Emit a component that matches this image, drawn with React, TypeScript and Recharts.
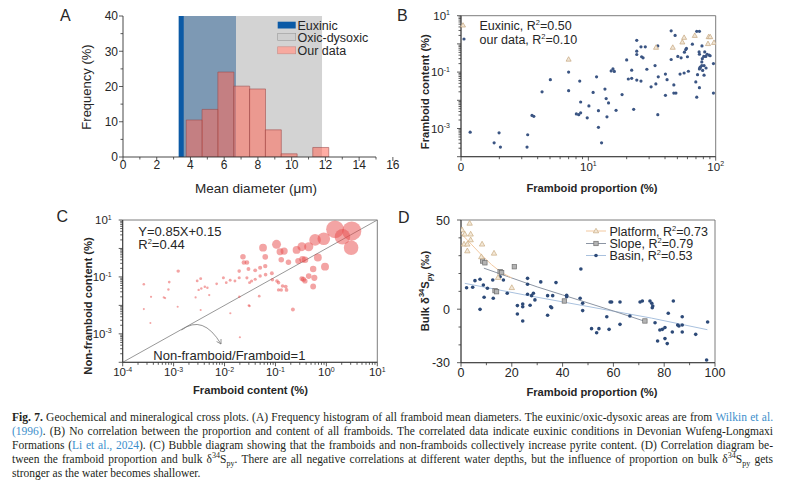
import React from "react";
import {
  ComposedChart,
  ScatterChart,
  Scatter,
  Bar,
  XAxis,
  YAxis,
  ZAxis,
  ReferenceArea,
  ReferenceLine,
} from "recharts";

const SANS = '"Liberation Sans", Arial, sans-serif';
const SERIF = '"Liberation Serif", "Times New Roman", serif';
const INK = "#262626";
const AXIS = "#333333";
const FRAME = "#6e6e6e";

// ---- A: framboid mean diameter histogram
const binLabels = ["0-1", "1-2", "2-3", "3-4", "4-5", "5-6", "6-7", "7-8", "8-9", "9-10", "10-11", "11-12", "12-13", "13-14", "14-15", "15-16"];
const binFreq = [0, 0, 0, 0, 10.5, 13.5, 24.1, 20.1, 19.3, 7.7, 0.9, 0, 2.7, 0, 0, 0];
const euxinicRange = [3.3, 6.7];
const oxicRange = [3.6, 11.8];
const aXTicks = [0, 1, 2, 3, 4, 5, 6, 7, 8, 9, 10, 11, 12, 13, 14, 15, 16];
const aXLabels = [0, 2, 4, 6, 8, 10, 12, 14, 16];
const aYTicks = [0, 5, 10, 15, 20, 25, 30, 35, 40];
const aYLabels = [0, 10, 20, 30, 40];

// ---- B: framboid proportion (%) vs framboid content (%)
const bOurData: [number, number][] = [
  [1.18, 7.4e-4], [1.82, 3.1e-4], [1.99, 7e-4], [2.04, 2.2e-4], [3.34, 6e-4], [3.3, 2.2e-4],
  [3.61, 2.9e-3], [3.73, 2.7e-3], [4.33, 0.02], [5.03, 0.054], [7.0, 0.1], [7.0, 0.022],
  [8.56, 0.048], [8.7, 8.7e-3], [8.05, 3.3e-3], [8.4, 3.1e-3], [8.7, 3.6e-3], [9.8, 2.4e-3],
  [10.1, 6.3e-3], [10.9, 0.019], [11.6, 0.068], [12.0, 4.3e-3], [12.0, 1.1e-3], [12.7, 3.1e-4],
  [13.5, 0.025], [13.8, 0.0115], [14.4, 8.1e-3], [14.0, 2.6e-3], [15.1, 0.11], [15.6, 0.13],
  [16.0, 0.106], [16.5, 4.4e-3], [18.4, 0.016], [20, 0.27], [20.6, 0.057], [21.9, 0.06],
  [21.9, 0.117], [22.7, 4.8e-3], [24, 1.34], [24, 0.55], [24, 0.42], [24, 0.052], [25.9, 0.048],
  [25.9, 0.79], [28, 0.79], [26.2, 0.35], [26.9, 0.32], [28.8, 0.126], [31.1, 0.03], [33.4, 0.17],
  [33.9, 0.038], [35.1, 0.85], [35.4, 0.068], [35.1, 3.1e-3], [40.3, 0.085], [41.5, 0.054],
  [40.3, 0.015], [44.7, 2.9], [44.7, 0.28], [46.9, 0.035], [46.9, 0.018], [48.7, 0.018], [48, 2.0],
  [50.4, 0.36], [52.5, 0.085], [56.5, 0.093], [53.5, 0.32], [56.8, 0.51], [58.2, 0.63], [58.9, 0.69],
  [60, 0.35], [61, 0.107], [65.6, 0.98], [71, 2.8], [74.5, 2.8], [69.8, 0.045], [71, 0.0129],
  [72, 0.081], [74.5, 0.13], [75.5, 0.15], [74.5, 0.028], [74.1, 0.52], [74.5, 0.43], [77.8, 0.23],
  [78.5, 0.3], [80.6, 0.36], [83.6, 0.36], [85.6, 0.43], [82, 0.52], [88.8, 0.4], [90.4, 0.38],
  [75.5, 0.14], [77.8, 0.17], [81, 0.17], [84, 0.14], [78, 0.85], [79, 0.115], [81, 0.078],
  [96, 0.2], [96, 0.018],
];
const bEuxinic: [number, number][] = [
  [7, 0.28], [34, 0.74], [46, 0.74], [54.7, 1.14], [56.5, 1.66], [68.5, 1.95], [88, 1.76],
  [90.5, 1.76], [87, 1.0], [97, 1.1],
];

// ---- C: framboid content (%) vs non-framboid content (%)
const cPoints: [number, number][] = [
  [1.48, 4.7], [3.15, 4.1], [3.06, 1.06], [2.07, 2.6], [0.89, 2.2], [0.6, 2.0], [0.45, 1.15],
  [0.33, 1.15], [0.68, 0.48], [0.94, 0.23], [0.55, 0.19], [0.58, 0.093], [0.45, 0.107], [0.38, 0.072],
  [0.355, 0.083], [0.33, 0.087], [0.55, 0.046], [0.105, 1.4], [0.057, 1.06], [0.063, 0.51],
  [0.123, 0.76], [0.148, 0.81], [0.13, 0.4], [0.18, 0.33], [0.28, 0.36], [0.34, 0.42], [0.38, 0.4],
  [0.26, 0.89], [0.05, 0.21], [0.04, 0.17], [0.063, 0.24], [0.0275, 0.32], [0.0295, 0.19],
  [0.05, 0.107], [0.064, 0.12], [0.085, 0.135], [0.087, 0.079], [0.107, 0.072], [0.115, 0.063],
  [0.138, 0.048], [0.159, 0.046], [0.115, 0.035], [0.13, 0.035], [0.165, 0.035], [0.04, 0.083],
  [0.034, 0.072], [0.031, 0.063], [0.048, 0.021], [0.03, 0.01], [0.22, 0.0072], [0.023, 0.51],
  [0.024, 0.32], [0.0194, 0.16], [0.0275, 0.093], [2.6e-4, 0.055], [3.6e-4, 0.02], [6.4e-4, 0.019],
  [8.2e-4, 0.066], [7.9e-4, 0.036], [1.23e-3, 0.16], [1.2e-3, 8.9e-3], [2.9e-3, 0.072],
  [3.4e-3, 0.087], [3.1e-3, 0.035], [3.5e-3, 0.039], [4.1e-3, 0.045], [4.6e-3, 0.042], [5e-3, 0.023],
  [7e-3, 0.057], [9.5e-3, 0.093], [0.0108, 0.063], [0.0129, 0.076], [0.016, 0.072], [0.0194, 0.093],
  [2.6e-4, 7.4e-3], [3.5e-4, 2.4e-3], [6.8e-4, 0.018], [2.7e-3, 0.019], [3.4e-3, 6.9e-3],
  [0.013, 5.3e-3], [0.02, 7.6e-4], [0.031, 9.5e-3], [0.0195, 0.02],
];
const cRatioLine = [
  { x: 1e-4, y: 1e-4 },
  { x: 10, y: 10 },
];

// ---- D: framboid proportion (%) vs bulk d34S (permil)
const dPlatform: [number, number][] = [
  [3.4, 48.1], [0.4, 44.4], [1.5, 42], [3.8, 42], [3.8, 38.8], [1.2, 36.4], [2.5, 36.4], [2.5, 32.6],
  [8.3, 36.4], [8.0, 29.3], [13, 31.3], [14.6, 17.7], [20, 12],
];
const dSlope: [number, number][] = [
  [8.5, 27], [9.4, 26], [15.4, 21], [16, 20.5], [21, 23.8], [13.4, 10.4], [14, 9.8], [40.7, 4.6], [72.4, -6.6],
];
const dBasin: [number, number][] = [
  [2.2, 12], [4.6, 12.3], [5.5, 16], [7.5, 16.8], [7.5, -0.1], [9.1, 6.7], [8.8, 13.6], [10.4, 11.7],
  [12.5, 16.4], [12.7, 6.1], [15.4, 18.2], [16.7, 16.4], [18.2, 8.9], [22.2, 2], [22.2, -2.7],
  [24.3, 2.9], [24.3, 1.4], [24.3, -6.6], [26.2, 17.3], [26.2, 14], [26.2, 8.4], [27.2, 2.2],
  [27.8, 7.6], [28.5, 8.9], [29.1, 5.2], [31.4, 15.3], [34.1, 7.6], [36.1, 7.6], [34.1, -3.4],
  [35.3, 1.4], [35.7, 0.8], [37.4, 14.9], [41.6, 7.8], [41.6, 7.0], [47.2, 22.5], [46.9, 6.1],
  [47.9, 3.3], [47.9, -0.8], [51.4, -10.9], [54.3, -10.9], [53.4, -13.2], [57.4, -4.2], [58.3, -11.3],
  [58.7, 4], [59.3, 4], [62.6, 4], [62.6, -8.5], [66.5, -3.8], [70.5, 4], [71.4, 4.6], [74.4, 4.6],
  [75.1, 3.3], [75.5, 1.8], [75.3, 0.8], [76.4, -7.6], [77.4, -17.8], [78.3, -11.7], [79.3, -11.3],
  [80.3, -16.5], [81.2, -19.3], [81.6, -2.3], [80.3, -10.3], [83.2, -12.8], [83.6, 4.6], [85.3, -8.9],
  [85.8, -9.4], [87.1, -4.2], [87.1, -8.9], [87.1, -12.8], [92.4, -14.1], [96.7, -28.5], [97.1, -7.2],
];
const dPlatformFit: [number, number][] = [[0, 42.5], [4, 36.5], [8, 30.5], [12, 25], [16, 20.5], [20, 17.5]];
const dSlopeFit: [number, number][] = [[9, 23], [20, 17.5], [30, 12.5], [40, 8], [50, 3.5], [60, -1], [72.4, -6.8]];
const dBasinFit: [number, number][] = [[1.5, 14.5], [25, 8], [50, 1.5], [75, -5], [97, -11.5]];
const dXTicks = [0, 10, 20, 30, 40, 50, 60, 70, 80, 90, 100];
const dXLabels = [0, 20, 40, 60, 80, 100];
const dYTicks = [-30, -20, -10, 0, 10, 20, 30, 40, 50];
const dYLabels = [-30, 0, 50];

const toXY = (pts: [number, number][]) => pts.map(([x, y]) => ({ x, y }));

const logTicks = (lo: number, hi: number) => {
  const t: number[] = [];
  for (let e = lo; e < hi; e++) for (let m = 1; m < 10; m++) t.push(m * Math.pow(10, e));
  t.push(Math.pow(10, hi));
  return t;
};
const decade = (v: number) => {
  const l = Math.log10(v);
  return Math.abs(l - Math.round(l)) < 1e-6 ? Math.round(l) : null;
};
const pow10 = (e: number) => (
  <>
    <tspan>10</tspan>
    <tspan dy={-4.5} fontSize={7}>{e}</tspan>
  </>
);

type TickArgs = { x: number; y: number; payload: { value: number } };
type Lab = (v: number) => React.ReactNode;

function bottomTick(isMajor: (v: number) => boolean, label: Lab, dy: number, fs: number) {
  return (p: TickArgs) => {
    const v = p.payload.value;
    const m = isMajor(v);
    const l = label(v);
    return (
      <g>
        <line x1={p.x} x2={p.x} y1={p.y} y2={p.y + (m ? 4 : 2.5)} stroke={AXIS} strokeWidth={0.8} />
        {l !== null && (
          <text x={p.x} y={p.y + dy} textAnchor="middle" fontSize={fs} fontFamily={SANS} fill={INK}>
            {l}
          </text>
        )}
      </g>
    );
  };
}

function leftTick(isMajor: (v: number) => boolean, label: Lab, gap: number, fs: number) {
  return (p: TickArgs) => {
    const v = p.payload.value;
    const m = isMajor(v);
    const l = label(v);
    return (
      <g>
        <line x1={p.x} x2={p.x - (m ? 4 : 2.5)} y1={p.y} y2={p.y} stroke={AXIS} strokeWidth={0.8} />
        {l !== null && (
          <text x={p.x - gap} y={p.y + fs * 0.36} textAnchor="end" fontSize={fs} fontFamily={SANS} fill={INK}>
            {l}
          </text>
        )}
      </g>
    );
  };
}

const axisCommon = {
  tickSize: 0,
  tickMargin: 0,
  tickLine: false,
  interval: 0 as const,
  allowDataOverflow: true,
  axisLine: { stroke: AXIS, strokeWidth: 0.9 },
};

const dotShape = (fill: string, r: number) => (p: any) => <circle cx={p.cx} cy={p.cy} r={r} fill={fill} />;
const triShape = (fill: string, stroke: string, s: number) => (p: any) => (
  <polygon
    points={`${p.cx},${p.cy - s} ${p.cx - s * 0.9},${p.cy + s * 0.6} ${p.cx + s * 0.9},${p.cy + s * 0.6}`}
    fill={fill}
    stroke={stroke}
    strokeWidth={0.7}
  />
);
const squareShape = (fill: string, stroke: string, s: number) => (p: any) => (
  <rect x={p.cx - s} y={p.cy - s} width={s * 2} height={s * 2} fill={fill} stroke={stroke} strokeWidth={0.7} />
);
const bubbleShape = (p: any) => (
  <circle cx={p.cx} cy={p.cy} r={Math.max(p.width / 2, 0.6)} fill="#e84a4a" fillOpacity={0.5} />
);
const noShape = () => <g />;

function PanelA() {
  const data = binLabels.map((bin, i) => ({ bin, freq: binFreq[i] }));
  return (
    <ComposedChart width={400} height={200} data={data} margin={{ top: 16, right: 24, bottom: 13, left: 0 }} barCategoryGap={0} barGap={0}>
      <XAxis
        xAxisId="mm"
        type="number"
        domain={[0, 16]}
        ticks={aXTicks}
        height={30}
        {...axisCommon}
        tick={bottomTick((v) => aXLabels.includes(v), (v) => (aXLabels.includes(v) ? v : null), 11.5, 12)}
      />
      <XAxis xAxisId="bin" dataKey="bin" type="category" hide height={0} />
      <YAxis
        type="number"
        domain={[0, 40]}
        ticks={aYTicks}
        width={123}
        {...axisCommon}
        tick={leftTick((v) => aYLabels.includes(v), (v) => (aYLabels.includes(v) ? v : null), 5, 12)}
      />
      <ReferenceArea xAxisId="mm" x1={euxinicRange[0]} x2={euxinicRange[1]} y1={0} y2={40} fill="#0b5aa6" fillOpacity={1} stroke="none" />
      <ReferenceArea xAxisId="mm" x1={oxicRange[0]} x2={oxicRange[1]} y1={0} y2={40} fill="#bcbcbc" fillOpacity={0.65} stroke="none" />
      <Bar xAxisId="bin" dataKey="freq" fill="#ff6a5a" fillOpacity={0.55} stroke="#9a4a4a" strokeOpacity={0.7} strokeWidth={0.8} isAnimationActive={false} />
      <ReferenceArea xAxisId="mm" x1={0} x2={16} y1={0} y2={40} fill="none" stroke={FRAME} strokeWidth={0.9} />
    </ComposedChart>
  );
}

function PanelB() {
  const xLab: Lab = (v) => {
    const d = decade(v);
    if (d === null) return null;
    return d === 0 ? "0" : pow10(d);
  };
  const yLab: Lab = (v) => {
    const d = decade(v);
    return d === 1 || d === -1 || d === -3 ? pow10(d) : null;
  };
  return (
    <ScatterChart width={392} height={200} margin={{ top: 15.7, right: 76.3, bottom: 13.3, left: 0 }}>
      <XAxis dataKey="x" type="number" scale="log" domain={[1, 100]} ticks={logTicks(0, 2)} height={30} {...axisCommon}
        tick={bottomTick((v) => decade(v) !== null, xLab, 14, 11.5)} />
      <YAxis dataKey="y" type="number" scale="log" domain={[1e-4, 10]} ticks={logTicks(-4, 1)} width={61} {...axisCommon}
        tick={leftTick((v) => decade(v) !== null, yLab, 11, 11.5)} />
      <Scatter data={toXY(bOurData)} shape={dotShape("#3b5583", 1.6)} isAnimationActive={false} />
      <Scatter data={toXY(bEuxinic)} shape={triShape("#f1e6d6", "#c4a57c", 2.8)} isAnimationActive={false} />
      <ReferenceArea x1={1} x2={100} y1={1e-4} y2={10} fill="none" stroke={FRAME} strokeWidth={0.9} />
    </ScatterChart>
  );
}

function PanelC() {
  const data = cPoints.map(([x, y]) => ({ x, y, z: x + y }));
  const xLab: Lab = (v) => {
    const d = decade(v);
    return d === null ? null : pow10(d);
  };
  const yLab: Lab = (v) => {
    const d = decade(v);
    return d === 1 || d === -1 || d === -3 ? pow10(d) : null;
  };
  return (
    <ScatterChart width={400} height={210} margin={{ top: 30, right: 22.7, bottom: 7.7, left: 0 }}>
      <XAxis dataKey="x" type="number" scale="log" domain={[1e-4, 10]} ticks={logTicks(-4, 1)} height={30} {...axisCommon}
        tick={bottomTick((v) => decade(v) !== null, xLab, 14, 11.5)} />
      <YAxis dataKey="y" type="number" scale="log" domain={[1e-4, 10]} ticks={logTicks(-4, 1)} width={122.7} {...axisCommon}
        tick={leftTick((v) => decade(v) !== null, yLab, 11, 11.5)} />
      <ZAxis dataKey="z" type="number" domain={[0, 8]} range={[3, 400]} />
      <ReferenceLine segment={cRatioLine} stroke="#8c8c8c" strokeWidth={0.9} ifOverflow="extendDomain" />
      <Scatter data={data} shape={bubbleShape} isAnimationActive={false} />
      <ReferenceArea x1={1e-4} x2={10} y1={1e-4} y2={10} fill="none" stroke={FRAME} strokeWidth={0.9} />
    </ScatterChart>
  );
}

function PanelD() {
  return (
    <ScatterChart width={392} height={210} margin={{ top: 30, right: 77, bottom: 7.3, left: 0 }}>
      <XAxis dataKey="x" type="number" domain={[0, 100]} ticks={dXTicks} height={30} {...axisCommon}
        tick={bottomTick((v) => dXLabels.includes(v), (v) => (dXLabels.includes(v) ? v : null), 14, 12.5)} />
      <YAxis dataKey="y" type="number" domain={[-30, 50]} ticks={dYTicks} width={61} {...axisCommon}
        tick={leftTick((v) => dYLabels.includes(v), (v) => (dYLabels.includes(v) ? v : null), 11, 12.5)} />
      <Scatter data={toXY(dBasinFit)} shape={noShape} line={{ stroke: "#a9c1de", strokeWidth: 1 }} isAnimationActive={false} />
      <Scatter data={toXY(dSlopeFit)} shape={noShape} line={{ stroke: "#8c95a3", strokeWidth: 1 }} isAnimationActive={false} />
      <Scatter data={toXY(dPlatformFit)} shape={noShape} line={{ stroke: "#f3c9a0", strokeWidth: 1 }} isAnimationActive={false} />
      <Scatter data={toXY(dBasin)} shape={dotShape("#2d4a78", 1.8)} isAnimationActive={false} />
      <Scatter data={toXY(dSlope)} shape={squareShape("#b4b4b4", "#6f6f6f", 2.2)} isAnimationActive={false} />
      <Scatter data={toXY(dPlatform)} shape={triShape("#f3e8d8", "#c9aa80", 3)} isAnimationActive={false} />
      <ReferenceArea x1={0} x2={100} y1={-30} y2={50} fill="none" stroke={FRAME} strokeWidth={0.9} />
    </ScatterChart>
  );
}

function VTitle({ cx, cy, fs, bold, children }: { cx: number; cy: number; fs: number; bold?: boolean; children: React.ReactNode }) {
  return (
    <text transform={`translate(${cx + fs * 0.35},${cy}) rotate(-90)`} textAnchor="middle" fontSize={fs} fontWeight={bold ? "bold" : "normal"}>
      {children}
    </text>
  );
}
function HTitle({ cx, cy, fs, bold, children }: { cx: number; cy: number; fs: number; bold?: boolean; children: React.ReactNode }) {
  return (
    <text x={cx} y={cy + fs * 0.35} textAnchor="middle" fontSize={fs} fontWeight={bold ? "bold" : "normal"}>
      {children}
    </text>
  );
}
function Txt({ x, cy, fs = 12.5, children }: { x: number; cy: number; fs?: number; children: React.ReactNode }) {
  return (
    <text x={x} y={cy + fs * 0.36} fontSize={fs}>
      {children}
    </text>
  );
}
const R2 = (v: string) => (
  <>
    R<tspan dy={-5} fontSize={7.5}>2</tspan>
    <tspan dy={5}>={v}</tspan>
  </>
);

function Overlay() {
  return (
    <svg width={792} height={489} style={{ position: "absolute", left: 0, top: 0, pointerEvents: "none" }} fontFamily={SANS} fill={INK}>
      <text x={60} y={20.7} fontSize={16}>A</text>
      <text x={397} y={20.5} fontSize={16}>B</text>
      <text x={56.5} y={222.3} fontSize={16}>C</text>
      <text x={398} y={223.3} fontSize={16}>D</text>

      <VTitle cx={86} cy={87} fs={13}>Frequency (%)</VTitle>
      <HTitle cx={256} cy={188} fs={13.5}>Mean diameter (μm)</HTitle>
      <VTitle cx={425} cy={91.7} fs={11.2} bold>Framboid content (%)</VTitle>
      <HTitle cx={592} cy={188} fs={11.2} bold>Framboid proportion (%)</HTitle>
      <VTitle cx={88} cy={306} fs={11.2} bold>Non-framboid content (%)</VTitle>
      <HTitle cx={250.5} cy={390} fs={11.2} bold>Framboid content (%)</HTitle>
      <VTitle cx={425} cy={291} fs={11.2} bold>
        Bulk δ<tspan dy={-4.5} fontSize={7.5}>34</tspan>
        <tspan dy={4.5}>S</tspan>
        <tspan dy={3} fontSize={7.5}>py</tspan>
        <tspan dy={-3}> (‰)</tspan>
      </VTitle>
      <HTitle cx={592} cy={391.7} fs={11.2} bold>Framboid proportion (%)</HTitle>

      {/* A legend */}
      <rect x={277.7} y={21.7} width={18} height={6.8} fill="#0b5aa6" />
      <rect x={277.7} y={33.5} width={18} height={7} fill="#cfcfcf" stroke="#9a9a9a" strokeWidth={0.6} />
      <rect x={277.7} y={46.8} width={18} height={7} fill="#f7a99f" stroke="#c98a85" strokeWidth={0.6} />
      <Txt x={297.5} cy={25}>Euxinic</Txt>
      <Txt x={297.5} cy={37.3}>Oxic-dysoxic</Txt>
      <Txt x={297.5} cy={50.5}>Our data</Txt>

      {/* B legend */}
      <polygon points="463,22.7 460.5,27 465.5,27" fill="#f1e6d6" stroke="#c4a57c" strokeWidth={0.7} />
      <circle cx={464} cy={39} r={1.6} fill="#3b5583" />
      <Txt x={479.5} cy={25.3}>Euxinic, {R2("0.50")}</Txt>
      <Txt x={479.5} cy={39}>our data, {R2("0.10")}</Txt>

      {/* C annotations */}
      <Txt x={138.3} cy={231} fs={13}>Y=0.85X+0.15</Txt>
      <Txt x={138.3} cy={244.3} fs={13}>{R2("0.44")}</Txt>
      <Txt x={153.3} cy={355} fs={13}>Non-framboid/Framboid=1</Txt>
      <path d="M181.5,330 Q203,314 221,344 M216.6,341.5 L221,344 L221,339" fill="none" stroke="#7a7a7a" strokeWidth={0.8} />

      {/* D legend */}
      <line x1={586} x2={606} y1={231} y2={231} stroke="#f3c9a0" />
      <polygon points="596,228.3 593.3,232.8 598.7,232.8" fill="#f3e8d8" stroke="#c9aa80" strokeWidth={0.7} />
      <line x1={586} x2={606} y1={243.5} y2={243.5} stroke="#8c95a3" />
      <rect x={593.8} y={241.3} width={4.4} height={4.4} fill="#b4b4b4" stroke="#6f6f6f" strokeWidth={0.7} />
      <line x1={586} x2={606} y1={255.5} y2={255.5} stroke="#a9c1de" />
      <circle cx={596} cy={255.5} r={1.8} fill="#2d4a78" />
      <Txt x={609.5} cy={231}>Platform, {R2("0.73")}</Txt>
      <Txt x={609.5} cy={243.5}>Slope, {R2("0.79")}</Txt>
      <Txt x={609.5} cy={255.5}>Basin, {R2("0.53")}</Txt>
    </svg>
  );
}

const LINK = "#3d8fcc";
const supS: React.CSSProperties = { fontSize: "0.7em", verticalAlign: "super", lineHeight: 0 };
const subS: React.CSSProperties = { fontSize: "0.7em", verticalAlign: "sub", lineHeight: 0 };

function Caption() {
  const row = (last = false): React.CSSProperties => ({
    textAlign: last ? "left" : "justify",
    textAlignLast: last ? "left" : "justify",
    height: 14.1,
    overflow: "visible",
  });
  const d34 = (
    <>
      δ<span style={supS}>34</span>S<span style={subS}>py</span>
    </>
  );
  return (
    <div style={{ position: "absolute", left: 12, top: 410, width: 761, fontFamily: SERIF, fontSize: 11.5, lineHeight: "14.1px", color: "#231f20" }}>
      <div style={row()}>
        <b>Fig. 7.</b> Geochemical and mineralogical cross plots. (A) Frequency histogram of all framboid mean diameters. The euxinic/oxic-dysoxic areas are from{" "}
        <span style={{ color: LINK }}>Wilkin et al.</span>
      </div>
      <div style={row()}>
        <span style={{ color: LINK }}>(1996)</span>. (B) No correlation between the proportion and content of all framboids. The correlated data indicate euxinic conditions in Devonian Wufeng-Longmaxi
      </div>
      <div style={row()}>
        Formations (<span style={{ color: LINK }}>Li et al., 2024</span>). (C) Bubble diagram showing that the framboids and non-framboids collectively increase pyrite content. (D) Correlation diagram be-
      </div>
      <div style={row()}>
        tween the framboid proportion and bulk {d34}. There are all negative correlations at different water depths, but the influence of proportion on bulk {d34} gets
      </div>
      <div style={row(true)}>stronger as the water becomes shallower.</div>
    </div>
  );
}

export default function App() {
  return (
    <div style={{ position: "absolute", left: 0, top: 0, width: 792, height: 489, background: "#ffffff", overflow: "hidden" }}>
      <div style={{ position: "absolute", left: 0, top: 0 }}>
        <PanelA />
      </div>
      <div style={{ position: "absolute", left: 400, top: 0 }}>
        <PanelB />
      </div>
      <div style={{ position: "absolute", left: 0, top: 190 }}>
        <PanelC />
      </div>
      <div style={{ position: "absolute", left: 400, top: 190 }}>
        <PanelD />
      </div>
      <Overlay />
      <Caption />
    </div>
  );
}
